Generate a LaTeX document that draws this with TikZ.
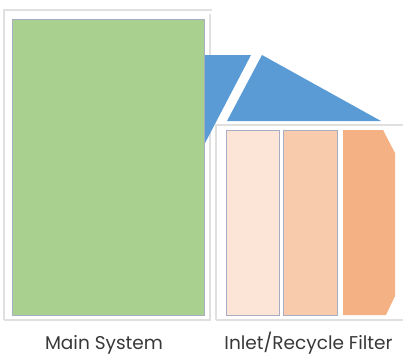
\documentclass[tikz,border=0pt]{standalone}
\usepackage{fontspec}
\setmainfont{Poppins}
\begin{document}
\begin{tikzpicture}[x=1pt,y=-1pt,
  frame/.style={draw=black!12,line width=1.6pt},
  lbl/.style={font=\fontsize{18.5}{22}\selectfont,text=black!78,anchor=base,inner sep=0pt}]
\definecolor{grn}{HTML}{A9D08E}
\definecolor{blu}{HTML}{5B9BD5}
\definecolor{fa}{HTML}{FCE4D6}
\definecolor{fb}{HTML}{F8CBAD}
\definecolor{fc}{HTML}{F4B183}
\definecolor{edge}{HTML}{A7AEC4}
\tikzset{box/.style={draw=edge,line width=1pt,inner sep=0pt}}
\useasboundingbox (0,0) rectangle (403,356);
% frames
\draw[frame] (4,320) -- (4,10) -- (212,10);
\draw[frame] (4,320) -- (210,320) -- (210,14);
\draw[frame] (216,320) -- (216,125) -- (403,125);
\draw[frame] (216,320) -- (403,320);
% blue triangles
\fill[blu] (200,55) -- (251,55) -- (204,145) -- cycle;
\fill[blu] (262,55) -- (381,121) -- (227,121) -- cycle;
% main system
\node[box,fill=grn,minimum width=192pt,minimum height=296pt] (main) at (108,167) {};
% filters
\node[box,fill=fa,minimum width=53pt,minimum height=185pt] (f1) at (252.5,222.5) {};
\node[box,fill=fb,minimum width=54pt,minimum height=185pt] (f2) at (310,222.5) {};
\fill[fc] (343,130) -- (383,130) -- (395,153) -- (395,296) -- (386,315) -- (343,315) -- cycle;
\coordinate (f3) at (369,222.5);
% labels
\node[lbl] (lmain) at (104,349) {Main System};
\node[lbl] (lfilt) at (308.5,349) {Inlet/Recycle Filter};
\end{tikzpicture}
\end{document}
